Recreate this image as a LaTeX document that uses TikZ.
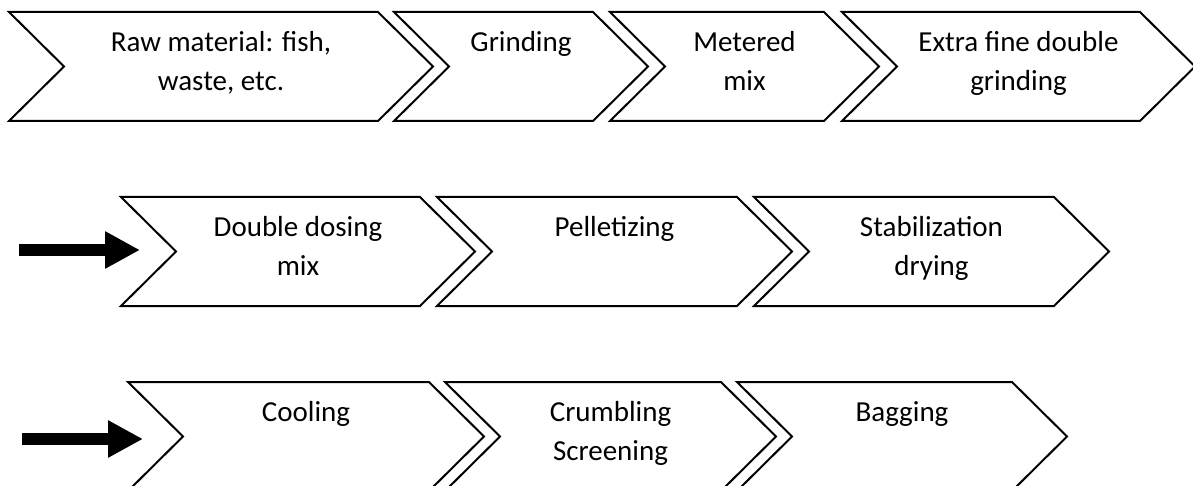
\documentclass[tikz,border=0pt]{standalone}
\usepackage{fontspec}
\setmainfont{Carlito}
\usepackage{tikz}
\usetikzlibrary{arrows.meta}

\tikzset{
    chevron/.style={draw=black,line width=2pt,line join=miter},
    steptext/.style={anchor=north,align=center,inner sep=0pt,
        font=\fontsize{29}{38.5}\selectfont},
    feed/.style={line width=12pt,-{Triangle[length=35pt,width=35pt]}}
}

\begin{document}
\begin{tikzpicture}[x=1pt,y=-1pt]
    \useasboundingbox (0,0) rectangle (1193,486);
    % left x / width / top y / name / label
    \foreach \x/\w/\y/\n/\t in {
        9/369/12/raw/{Raw material: fish,\\waste, etc.},
        394/199/12/grind/{Grinding},
        610/214/12/meter/{Metered\\mix},
        842/298/12/fine/{Extra fine double\\grinding},
        121/299/197/dose/{Double dosing\\mix},
        437/300/197/pellet/{Pelletizing},
        754/300/197/stab/{Stabilization\\drying},
        128/301/382/cool/{Cooling},
        445/276/382/crumb/{Crumbling\\Screening},
        737/275/382/bag/{Bagging}}
    {
        \draw[chevron] (\x,\y) -- ++(\w,0) -- ++(55,54.5) -- ++(-55,54.5)
            -- ++(-\w,0) -- ++(55,-54.5) -- cycle;
        \node[steptext] (\n) at ({\x+(\w+55)/2},{\y+14.5})
            {\rule{0pt}{25pt}\t};
    }
    % feed arrows
    \coordinate (feedA) at (19,250);
    \coordinate (feedB) at (140,250);
    \coordinate (feedC) at (22,439);
    \coordinate (feedD) at (143,439);
    \draw[feed] (feedA) -- (feedB);
    \draw[feed] (feedC) -- (feedD);
\end{tikzpicture}
\end{document}
